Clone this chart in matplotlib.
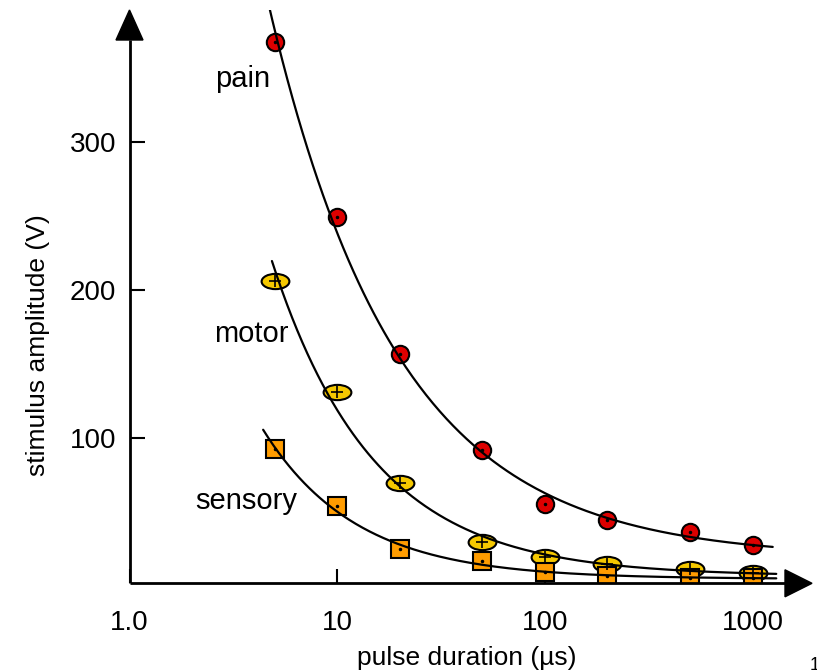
import numpy as np
import matplotlib
matplotlib.use("Agg")
import matplotlib.pyplot as plt
from matplotlib.path import Path
from matplotlib.transforms import Affine2D
from matplotlib.patches import Polygon

plt.rcParams['font.family'] = ['Liberation Sans', 'DejaVu Sans']

# ---- data ----
duration = [5, 10, 20, 50, 100, 200, 500, 1000]          # pulse duration (µs)
pain = [367, 249, 157, 92, 56, 45, 37, 28]               # stimulus amplitude (V)
motor = [206, 131, 70, 30, 20, 15, 12, 9]
sensory = [93, 54, 25, 17, 10, 7, 6, 6]
xtick_vals = [1, 10, 100, 1000]
xtick_labels = ['1.0', '10', '100', '1000']
ytick_vals = [100, 200, 300]
curve_ranges = {'pain': (4.6, 1250), 'motor': (4.85, 1300), 'sensory': (4.4, 1300)}


def fit_curve(t, y, t0, t1):
    """Relative least-squares strength-duration fit y = a + b * t**-c (c by grid search)."""
    t = np.asarray(t, float)
    y = np.asarray(y, float)
    w = 1.0 / np.sqrt(y)
    best = None
    for c in np.linspace(0.2, 2.0, 361):
        A = np.column_stack([np.ones_like(t), t ** -c])
        coef, *_ = np.linalg.lstsq(A * w[:, None], y * w, rcond=None)
        r = np.sum(((A @ coef - y) * w) ** 2)
        if best is None or r < best[0]:
            best = (r, c, coef)
    _, c, (a, b) = best
    tt = np.logspace(np.log10(t0), np.log10(t1), 300)
    return tt, a + b * tt ** -c


W_FIG, H_FIG = 817, 670
ax_left, ax_right, ax_top, ax_bottom = 129.5, 812, 10, 583.3
W_px = ax_right - ax_left
H_px = ax_bottom - ax_top

fig = plt.figure(figsize=(W_FIG / 100, H_FIG / 100), dpi=100)
ax = fig.add_axes([ax_left / W_FIG, (H_FIG - ax_bottom) / H_FIG,
                   W_px / W_FIG, H_px / H_FIG])
ax.set_xscale('log')
decade_px = 207.7
ax.set_xlim(1, 10 ** (W_px / decade_px))
px_per_unit = 1.483
y0 = 2.2
ax.set_ylim(y0, y0 + H_px / px_per_unit)

for s in ax.spines.values():
    s.set_visible(False)

# markers
ellipse = Path.unit_circle().transformed(Affine2D().scale(1, 0.55))
ax.plot(duration, pain, linestyle='none', marker='o', ms=12.5, mfc='#dd0000',
        mec='black', mew=1.5, zorder=3)
ax.plot(duration, pain, linestyle='none', marker='.', ms=3, color='black', zorder=3.5)
ax.plot(duration, motor, linestyle='none', marker=ellipse, ms=20, mfc='#f5c800',
        mec='black', mew=1.5, zorder=3)
ax.plot(duration, motor, linestyle='none', marker='+', ms=9, mew=1.2, color='black', zorder=3.5)
ax.plot(duration, sensory, linestyle='none', marker='s', ms=13.5, mfc='#ff9c00',
        mec='black', mew=1.5, zorder=3)
ax.plot(duration, sensory, linestyle='none', marker='.', ms=3, color='black', zorder=3.5)

# fitted curves (on top of markers)
for name, vals in (('pain', pain), ('motor', motor), ('sensory', sensory)):
    t0, t1 = curve_ranges[name]
    tt, yy = fit_curve(duration, vals, t0, t1)
    ax.plot(tt, yy, color='black', lw=1.6, zorder=4, solid_capstyle='round')

# axes lines with arrowheads
head_len_x, head_half_x = 27, 13.5
ax.plot([0, 1 - head_len_x / W_px], [0, 0], transform=ax.transAxes, color='black',
        lw=2, clip_on=False, solid_capstyle='butt', zorder=5)
ax.add_patch(Polygon([[1, 0], [1 - head_len_x / W_px, head_half_x / H_px],
                      [1 - head_len_x / W_px, -head_half_x / H_px]], closed=True,
                     transform=ax.transAxes, color='black', clip_on=False, zorder=5))
head_len_y, head_half_y = 30, 13.5
ax.plot([0, 0], [0, 1 - head_len_y / H_px], transform=ax.transAxes, color='black',
        lw=2, clip_on=False, solid_capstyle='butt', zorder=5)
ax.add_patch(Polygon([[0, 1], [head_half_y / W_px, 1 - head_len_y / H_px],
                      [-head_half_y / W_px, 1 - head_len_y / H_px]], closed=True,
                     transform=ax.transAxes, color='black', clip_on=False, zorder=5))

# ticks
ax.set_xticks(xtick_vals)
ax.set_xticklabels(xtick_labels)
ax.xaxis.set_minor_locator(matplotlib.ticker.NullLocator())
ax.set_yticks(ytick_vals)
ax.tick_params(axis='x', direction='in', length=10, width=1.5, labelsize=20, pad=19)
ax.tick_params(axis='y', direction='in', length=11, width=1.5, labelsize=20, pad=9.5)
ax.set_axisbelow(True)

# annotations
ax.text(3.5, 342, 'pain', fontsize=21, ha='center', va='center')
ax.text(3.87, 170, 'motor', fontsize=21, ha='center', va='center')
ax.text(3.66, 58, 'sensory', fontsize=21, ha='center', va='center')

# axis labels
fig.text(38 / W_FIG, 1 - 345 / H_FIG, 'stimulus amplitude (V)', rotation=90,
         fontsize=19, ha='center', va='center')
fig.text(467 / W_FIG, 1 - 658 / H_FIG, 'pulse duration (µs)', fontsize=19,
         ha='center', va='center')
fig.text(810 / W_FIG, 1 - 657 / H_FIG, '1', fontsize=13, ha='left', va='top')

fig.savefig('out.png', dpi=100)
